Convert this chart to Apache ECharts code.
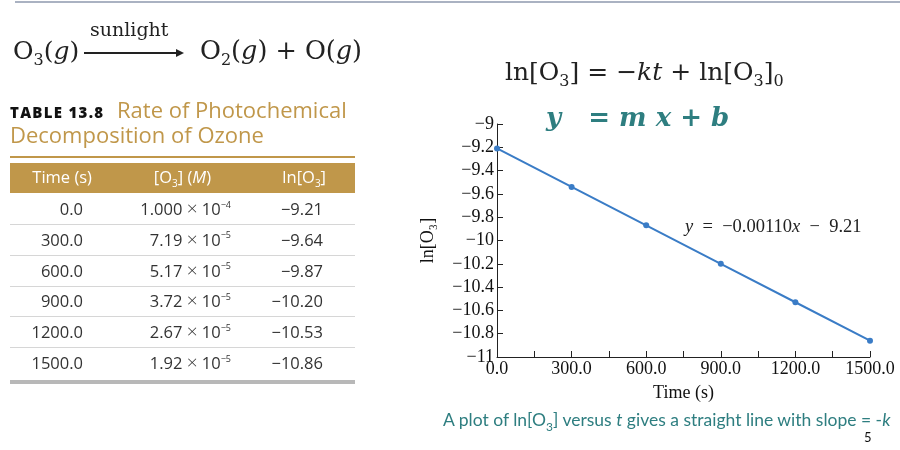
<!DOCTYPE html>
<html>
<head>
<meta charset="utf-8">
<script src="https://cdn.jsdelivr.net/npm/echarts@6/dist/echarts.min.js"></script>
<style>
  body { margin: 0; background: #fff; }
  .page { position: relative; width: 900px; height: 450px; overflow: hidden; }
  #chart { position: absolute; left: 0; top: 0; width: 900px; height: 450px; }
  .t { position: absolute; white-space: nowrap; line-height: 1; }
  .eq { font-family: "DejaVu Serif", serif; color: #222; }
  .sans { font-family: "Open Sans", sans-serif; }
  .cell { position: absolute; font-family: "Open Sans", sans-serif; font-size: 16.5px; color: #333; white-space: nowrap; line-height: 1; }
  .x { font-size: 19px; font-weight: 300; line-height: 0; }
  sub, sup { line-height: 0; }
</style>
</head>
<body>
<div class="page">
  <div id="chart"></div>

  <!-- top rule -->
  <div style="position:absolute;left:15px;top:1px;width:885px;height:2px;background:#aab2c2"></div>

  <!-- reaction -->
  <div class="t eq" style="left:13px;top:38px;font-size:25px">O<sub style="font-size:16px">3</sub>(<i>g</i>)</div>
  <div class="t eq" style="left:90px;top:20px;font-size:19px">sunlight</div>
  <div style="position:absolute;left:84px;top:52px;width:96px;height:1.5px;background:#222"></div>
  <div style="position:absolute;left:176px;top:48.5px;width:0;height:0;border-top:4px solid transparent;border-bottom:4px solid transparent;border-left:8px solid #222"></div>
  <div class="t eq" style="left:200px;top:38px;font-size:25.5px">O<sub style="font-size:16px">2</sub>(<i>g</i>) + O(<i>g</i>)</div>

  <!-- table title -->
  <div class="t sans" style="left:10px;top:105px;font-size:15px;font-weight:800;color:#111;letter-spacing:1.3px">TABLE 13.8</div>
  <div class="t sans" style="left:117px;top:98px;font-size:22px;color:#c0974a">Rate of Photochemical</div>
  <div class="t sans" style="left:10px;top:123px;font-size:22px;color:#c0974a">Decomposition of Ozone</div>
  <div style="position:absolute;left:10px;top:156px;width:345px;height:2px;background:#c0974a"></div>
  <div style="position:absolute;left:10px;top:163px;width:345px;height:30px;background:#c0974a"></div>
  <div id="table"></div>
  <div style="position:absolute;left:10px;top:380px;width:345px;height:4px;background:#b8b8b8"></div>

  <!-- right equations -->
  <div class="t eq" style="left:505px;top:59px;font-size:25px">ln[O<sub style="font-size:16px">3</sub>] = −<i>kt</i> + ln[O<sub style="font-size:16px">3</sub>]<sub style="font-size:16px">0</sub></div>
  <div class="t eq" style="left:546px;top:104px;font-size:26px;color:#2e7e80;font-weight:bold;font-style:italic">y&nbsp;&nbsp;&nbsp;<span style="font-style:normal">=</span> m x <span style="font-style:normal">+</span> b</div>

  <!-- caption -->
  <div class="t" style="left:443px;top:411px;font-family:Lato,sans-serif;font-size:17.5px;color:#2e7e80">A plot of ln[O<sub style="font-size:12px">3</sub>] versus <i>t</i> gives a straight line with slope = -<i>k</i></div>
  <div class="t" style="left:864px;top:431px;font-family:Lato,sans-serif;font-size:13px;color:#111">5</div>
</div>

<script>
// plotted data
const times = [0, 300, 600, 900, 1200, 1500];
const lnO3 = [-9.21, -9.54, -9.87, -10.20, -10.53, -10.86];

// table contents
const tableHeader = ['Time (s)', '[O<sub style="font-size:10px">3</sub>] (<i>M</i>)', 'ln[O<sub style="font-size:10px">3</sub>]'];
const tableTime = ['0.0', '300.0', '600.0', '900.0', '1200.0', '1500.0'];
const tableConc = [['1.000', '−4'], ['7.19', '−5'], ['5.17', '−5'], ['3.72', '−5'], ['2.67', '−5'], ['1.92', '−5']];
const tableLn = ['−9.21', '−9.64', '−9.87', '−10.20', '−10.53', '−10.86'];

const fitLabel = '{i|y}  =  −0.00110{i|x}  −  9.21';

// build table
const tbl = document.getElementById('table');
function cell(html, right, top, extra) {
  const d = document.createElement('div');
  d.className = 'cell';
  d.innerHTML = html;
  d.style.top = top + 'px';
  d.style.right = (900 - right) + 'px';
  if (extra) d.style.cssText += extra;
  tbl.appendChild(d);
}
cell(tableHeader[0], 92, 169, 'color:#fff');
cell(tableHeader[1], 211, 169, 'color:#fff');
cell(tableHeader[2], 326, 169, 'color:#fff');
const rowTop = 201, rowH = 30.8;
tableTime.forEach((t, i) => {
  const y = rowTop + i * rowH;
  cell(t, 83, y);
  cell(tableConc[i][0] + ' <span class="x">×</span> 10<sup style="font-size:9px;position:relative;top:-1px">' + tableConc[i][1] + '</sup>', 231, y);
  cell(tableLn[i], 323, y);
  if (i < tableTime.length - 1) {
    const s = document.createElement('div');
    s.style.cssText = 'position:absolute;left:10px;width:345px;height:1px;background:#d6d6d6;top:' + Math.round(y + 23) + 'px';
    tbl.appendChild(s);
  }
});

const chart = echarts.init(document.getElementById('chart'));
const serif = '"Liberation Serif", serif';

chart.setOption({
  animation: false,
  grid: { left: 497, right: 30, top: 124, bottom: 93 },
  xAxis: {
    type: 'value',
    min: 0, max: 1500, interval: 150,
    name: 'Time (s)', nameLocation: 'middle', nameGap: 27,
    nameTextStyle: { fontFamily: serif, fontSize: 18, color: '#111' },
    axisLine: { lineStyle: { color: '#222', width: 1 } },
    axisTick: { inside: true, length: 6, lineStyle: { color: '#222' } },
    splitLine: { show: false },
    axisLabel: {
      fontFamily: serif, fontSize: 18, color: '#111', margin: 3,
      formatter: v => (v % 300 === 0 ? v.toFixed(1) : '')
    }
  },
  yAxis: {
    type: 'value',
    min: -11, max: -9, interval: 0.2,
    name: 'ln[O₃]', nameLocation: 'middle', nameGap: 60, nameRotate: 90,
    nameTextStyle: { fontFamily: serif, fontSize: 18, color: '#111' },
    axisLine: { show: true, lineStyle: { color: '#222', width: 1 } },
    axisTick: { inside: true, length: 6, lineStyle: { color: '#222' } },
    splitLine: { show: false },
    axisLabel: {
      fontFamily: serif, fontSize: 18, color: '#111', margin: 3,
      formatter: v => {
        const r = Math.round(v * 10) / 10;
        const s = Number.isInteger(r) ? String(Math.abs(r)) : Math.abs(r).toFixed(1);
        return '−' + s;
      }
    }
  },
  series: [{
    type: 'line',
    data: times.map((t, i) => [t, lnO3[i]]),
    symbol: 'circle', symbolSize: 6,
    lineStyle: { color: '#3a7cc6', width: 2 },
    itemStyle: { color: '#3a7cc6' }
  }],
  graphic: [{
    type: 'text', left: 685, top: 218,
    style: {
      text: fitLabel, fontFamily: serif, fontSize: 18.5, fill: '#222',
      rich: { i: { fontStyle: 'italic', fontFamily: serif, fontSize: 18.5, fill: '#222' } }
    }
  }]
});
</script>
</body>
</html>
